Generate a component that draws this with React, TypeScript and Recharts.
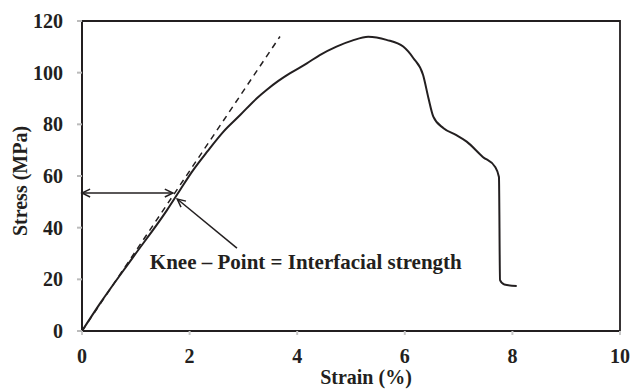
import {
  LineChart,
  Line,
  XAxis,
  YAxis,
  ReferenceArea,
  ReferenceLine,
  ReferenceDot,
  Label,
} from 'recharts'

// stress-strain curve
const strain = [
  0, 0.33, 0.95, 1.58, 1.82, 2.04, 2.33, 2.63, 2.94, 3.25, 3.43, 3.65, 3.87, 4.18, 4.42, 4.73,
  5.02, 5.32, 5.66, 5.97, 6.16, 6.34, 6.44, 6.53, 6.72, 6.95, 7.15, 7.45, 7.68, 7.75, 7.77, 7.85,
  8.08,
]
const stress = [
  0, 10.5, 28.6, 46.8, 54.5, 61.5, 69.5, 77.2, 83.6, 90.1, 93.3, 96.8, 99.8, 103.6, 106.8, 110.1,
  112.4, 113.9, 112.7, 110.1, 105.6, 99.1, 90.1, 83.0, 78.5, 75.9, 73.3, 67.4, 63.5, 59.6, 19.7,
  18.0, 17.4,
]

// tangent (elastic) line
const tangentStrain = [0, 3.68]
const tangentStress = [0, 114]

const xTicks = [0, 2, 4, 6, 8, 10]
const yTicks = [0, 20, 40, 60, 80, 100, 120]

// knee point annotation
const kneeStress = 53.4
const kneeStrain = 1.69
const pointerFrom = { x: 2.88, y: 32.1 }
const pointerTo = { x: 1.77, y: 51.1 }
const noteText = 'Knee \u2013 Point = Interfacial strength'
const notePos = { x: 4.16, y: 26.9 }

const curve = strain.map((x, i) => ({ x, y: stress[i] }))
const tangent = tangentStrain.map((x, i) => ({ x, y: tangentStress[i] }))

const INK = '#231f20'
const FONT = '"Liberation Serif", "Times New Roman", serif'

function head(x: number, y: number, fx: number, fy: number) {
  // small open arrowhead at (x,y), pointing away from (fx,fy)
  const a = Math.atan2(y - fy, x - fx)
  const L = 9
  const s = 0.45
  const p1 = [x - L * Math.cos(a - s), y - L * Math.sin(a - s)]
  const p2 = [x - L * Math.cos(a + s), y - L * Math.sin(a + s)]
  return `${p1[0]},${p1[1]} ${x},${y} ${p2[0]},${p2[1]}`
}

function ArrowShape(props: any) {
  const { x1, y1, x2, y2, both } = props
  if (x1 == null) return null
  return (
    <g>
      <line x1={x1} y1={y1} x2={x2} y2={y2} stroke={INK} strokeWidth={1.5} />
      <polyline points={head(x2, y2, x1, y1)} fill="none" stroke={INK} strokeWidth={1.5} />
      {both && <polyline points={head(x1, y1, x2, y2)} fill="none" stroke={INK} strokeWidth={1.5} />}
    </g>
  )
}

function NoteShape(props: any) {
  const { cx, cy } = props
  return (
    <text
      x={cx}
      y={cy}
      textAnchor="middle"
      dominantBaseline="central"
      fontFamily={FONT}
      fontWeight="bold"
      fontSize={21}
      fill={INK}
    >
      {noteText}
    </text>
  )
}

export default function App() {
  const tickStyle = { fill: INK, fontFamily: FONT, fontWeight: 'bold', fontSize: 20 }
  return (
    <div style={{ position: 'absolute', left: 0, top: 0, background: '#fff' }}>
      <LineChart
        width={630}
        height={390}
        margin={{ top: 21, right: 10, bottom: 29, left: 22 }}
      >
        <XAxis
          type="number"
          dataKey="x"
          domain={[0, 10]}
          ticks={xTicks}
          height={30}
          stroke={INK}
          strokeWidth={2}
          tickSize={4}
          tickMargin={14}
          tickLine={{ stroke: '#c8c8c8' }}
          tick={tickStyle}
        >
          <Label
            content={() => (
              <text
                x={366}
                y={384}
                textAnchor="middle"
                fontFamily={FONT}
                fontWeight="bold"
                fontSize={20}
                fill={INK}
              >
                Strain (%)
              </text>
            )}
          />
        </XAxis>
        <YAxis
          type="number"
          dataKey="y"
          domain={[0, 120]}
          ticks={yTicks}
          width={60}
          stroke={INK}
          strokeWidth={2}
          tickSize={5}
          tickMargin={14}
          tickLine={{ stroke: '#bbbbbb' }}
          tick={tickStyle}
        >
          <Label
            content={() => (
              <text
                x={20}
                y={181}
                transform="rotate(-90 20 181)"
                textAnchor="middle"
                dominantBaseline="central"
                fontFamily={FONT}
                fontWeight="bold"
                fontSize={20}
                fill={INK}
              >
                Stress (MPa)
              </text>
            )}
          />
        </YAxis>
        <ReferenceArea
          x1={0}
          x2={10}
          y1={0}
          y2={120}
          fill="none"
          stroke={INK}
          strokeWidth={1.8}
          ifOverflow="visible"
        />
        <Line
          data={tangent}
          dataKey="y"
          type="linear"
          stroke={INK}
          strokeWidth={1.5}
          strokeDasharray="6 5"
          dot={false}
          isAnimationActive={false}
        />
        <Line
          data={curve}
          dataKey="y"
          type="monotone"
          stroke={INK}
          strokeWidth={2}
          dot={false}
          isAnimationActive={false}
        />
        <ReferenceLine
          segment={[
            { x: 0, y: kneeStress },
            { x: kneeStrain, y: kneeStress },
          ]}
          shape={(p: any) => <ArrowShape {...p} both />}
        />
        <ReferenceLine
          segment={[pointerFrom, pointerTo]}
          shape={(p: any) => <ArrowShape {...p} />}
        />
        <ReferenceDot x={notePos.x} y={notePos.y} r={0} shape={NoteShape} />
      </LineChart>
    </div>
  )
}
